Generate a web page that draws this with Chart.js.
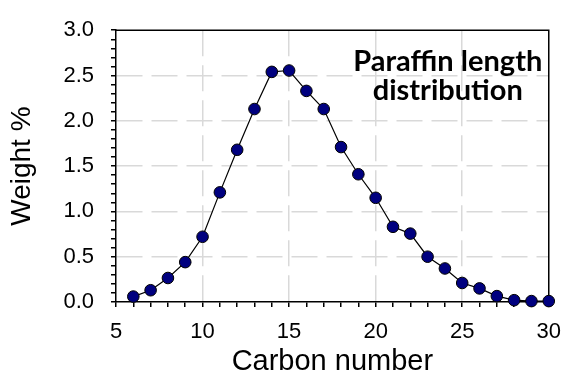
<!DOCTYPE html>
<html>
<head>
<meta charset="utf-8">
<script src="https://cdn.jsdelivr.net/npm/chart.js@4.4.1/dist/chart.umd.min.js"></script>
<style>
    body { margin: 0; background: #fff; }
    #wrap { width: 573px; height: 379px; }
</style>
</head>
<body>
<div id="wrap"><canvas id="paraffinChart" width="573" height="379"></canvas></div>
<script>
// carbon number vs weight %
const carbonNumbers = [6, 7, 8, 9, 10, 11, 12, 13, 14, 15, 16, 17, 18, 19, 20, 21, 22, 23, 24, 25, 26, 27, 28, 29, 30];
const weightPct = [0.06, 0.13, 0.265, 0.44, 0.72, 1.21, 1.68, 2.13, 2.54, 2.555, 2.33, 2.13, 1.71, 1.41, 1.15, 0.83, 0.755, 0.50, 0.37, 0.21, 0.15, 0.065, 0.02, 0.01, 0.01];

const xMin = 5, xMax = 30, xMajor = 5, xMinor = 1;
const yMin = 0, yMax = 3, yMajor = 0.5, yMinor = 0.1;
const noteLines = ['Paraffin length', 'distribution'];

const axisFont = 'Arial, "Liberation Sans", sans-serif';

function stepTicks(min, max, step) {
    const out = [];
    const n = Math.round((max - min) / step);
    for (let i = 0; i <= n; i++) out.push({ value: +(min + i * step).toFixed(6) });
    return out;
}

function isMajor(v, major) {
    const r = v / major;
    return Math.abs(r - Math.round(r)) < 1e-6;
}

// dashed grid only on inner major ticks
function gridColor(ctx, major, min, max) {
    if (!ctx.tick) return 'rgba(0,0,0,0)';
    const v = ctx.tick.value;
    if (v <= min + 1e-6 || v >= max - 1e-6) return 'rgba(0,0,0,0)';
    return isMajor(v, major) ? '#d9d9d9' : 'rgba(0,0,0,0)';
}

const framePlugin = {
    id: 'frame',
    beforeDatasetsDraw(chart) {
        const a = chart.chartArea;
        const c = chart.ctx;
        c.save();
        c.strokeStyle = '#000';
        c.lineWidth = 1.5;
        c.beginPath();
        c.moveTo(a.left, a.top);
        c.lineTo(a.right, a.top);
        c.lineTo(a.right, a.bottom);
        c.stroke();
        c.restore();
    },
    afterDraw(chart) {
        const a = chart.chartArea;
        const c = chart.ctx;
        c.save();
        c.fillStyle = '#000';
        c.font = 'bold 29px Lato, "Open Sans", sans-serif';
        c.textAlign = 'center';
        c.textBaseline = 'alphabetic';
        const cx = a.right - 101;
        noteLines.forEach((t, i) => c.fillText(t, cx, a.top + 41 + i * 29));
        c.restore();
    }
};

window.onload = function() {
    const ctx = document.getElementById('paraffinChart').getContext('2d');
    new Chart(ctx, {
        type: 'line',
        data: {
            datasets: [{
                data: carbonNumbers.map((x, i) => ({ x: x, y: weightPct[i] })),
                borderColor: '#000',
                borderWidth: 1.2,
                tension: 0,
                pointRadius: 5.8,
                pointBackgroundColor: '#00007f',
                pointBorderColor: '#000',
                pointBorderWidth: 1,
                clip: false
            }]
        },
        options: {
            responsive: false,
            animation: false,
            layout: { padding: { left: 0, top: 25, right: 16, bottom: 0 } },
            plugins: {
                legend: { display: false },
                tooltip: { enabled: false }
            },
            scales: {
                x: {
                    type: 'linear',
                    min: xMin,
                    max: xMax,
                    afterBuildTicks: s => { s.ticks = stepTicks(xMin, xMax, xMinor); },
                    afterFit: s => { s.height = 77; },
                    border: { display: true, color: '#000', width: 1.5, dash: [26, 9] },
                    grid: {
                        color: c => gridColor(c, xMajor, xMin, xMax),
                        lineWidth: 1.5,
                        tickColor: '#000',
                        tickLength: 5,
                        tickWidth: 1.5
                    },
                    ticks: {
                        autoSkip: false,
                        maxRotation: 0,
                        padding: 12,
                        color: '#000',
                        font: { family: axisFont, size: 22 },
                        callback: v => isMajor(v, xMajor) ? String(Math.round(v)) : ''
                    },
                    title: {
                        display: true,
                        text: 'Carbon number',
                        color: '#000',
                        font: { family: axisFont, size: 29 },
                        padding: { top: 0, bottom: 0 }
                    }
                },
                y: {
                    type: 'linear',
                    min: yMin,
                    max: yMax,
                    afterBuildTicks: s => { s.ticks = stepTicks(yMin, yMax, yMinor); },
                    afterFit: s => { s.width = 116; },
                    border: { display: true, color: '#000', width: 1.5, dash: [26, 9] },
                    grid: {
                        color: c => gridColor(c, yMajor, yMin, yMax),
                        lineWidth: 1.5,
                        tickColor: '#000',
                        tickLength: 5,
                        tickWidth: 1.5
                    },
                    ticks: {
                        autoSkip: false,
                        padding: 17,
                        color: '#000',
                        font: { family: axisFont, size: 22 },
                        callback: v => isMajor(v, yMajor) ? v.toFixed(1) : ''
                    },
                    title: {
                        display: true,
                        text: 'Weight %',
                        color: '#000',
                        font: { family: axisFont, size: 28 },
                        padding: { top: 5, bottom: 0 }
                    }
                }
            }
        },
        plugins: [framePlugin]
    });
};
</script>
</body>
</html>
